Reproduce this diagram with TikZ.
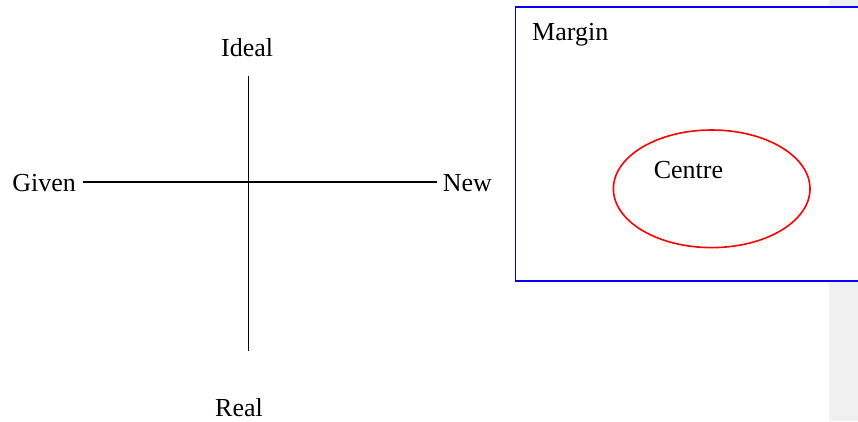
\documentclass[tikz,border=0pt]{standalone}
\usepackage{fontspec}
\setmainfont{Liberation Serif}
\usetikzlibrary{shapes.geometric}
\begin{document}
\begin{tikzpicture}[x=1pt,y=-1pt,
  lbl/.style={inner sep=0pt,font=\fontsize{26}{30}\selectfont,text=black},
  axis/.style={draw=black,line width=1.6pt},
  frame/.style={draw=blue,line width=1.6pt,fill=white},
  centreshape/.style={ellipse,draw=red,line width=1.6pt,inner sep=0pt,minimum width=196.6pt,minimum height=117.6pt}]
\useasboundingbox (0,0) rectangle (858,421);
\clip (0,0) rectangle (858,421);
% grey strip on the right
\fill[fill={rgb,255:red,240;green,240;blue,240}] (829,0) rectangle (858,421);
% cross
\coordinate (hl) at (83.3,181.7);
\coordinate (hr) at (437.3,181.7);
\coordinate (vt) at (248.3,75.7);
\coordinate (vb) at (248.3,350.7);
\draw[axis] (hl) -- (hr);
\draw[axis] (vt) -- (vb);
\node[lbl,anchor=base east] (given) at (76,191.7) {Given};
\node[lbl,anchor=base west] (new) at (442.7,191.7) {New};
\node[lbl,anchor=base] (ideal) at (247.2,56) {Ideal};
\node[lbl,anchor=base] (real) at (239,416.7) {Real};
% margin / centre
\draw[frame] (515.5,7) rectangle (880,281);
\node[lbl,anchor=base west] (margin) at (532,40.7) {Margin};
\node[centreshape] (centre) at (711.7,188.8) {};
\node[lbl,anchor=base] (centrelabel) at (688.5,178) {Centre};
\end{tikzpicture}
\end{document}
